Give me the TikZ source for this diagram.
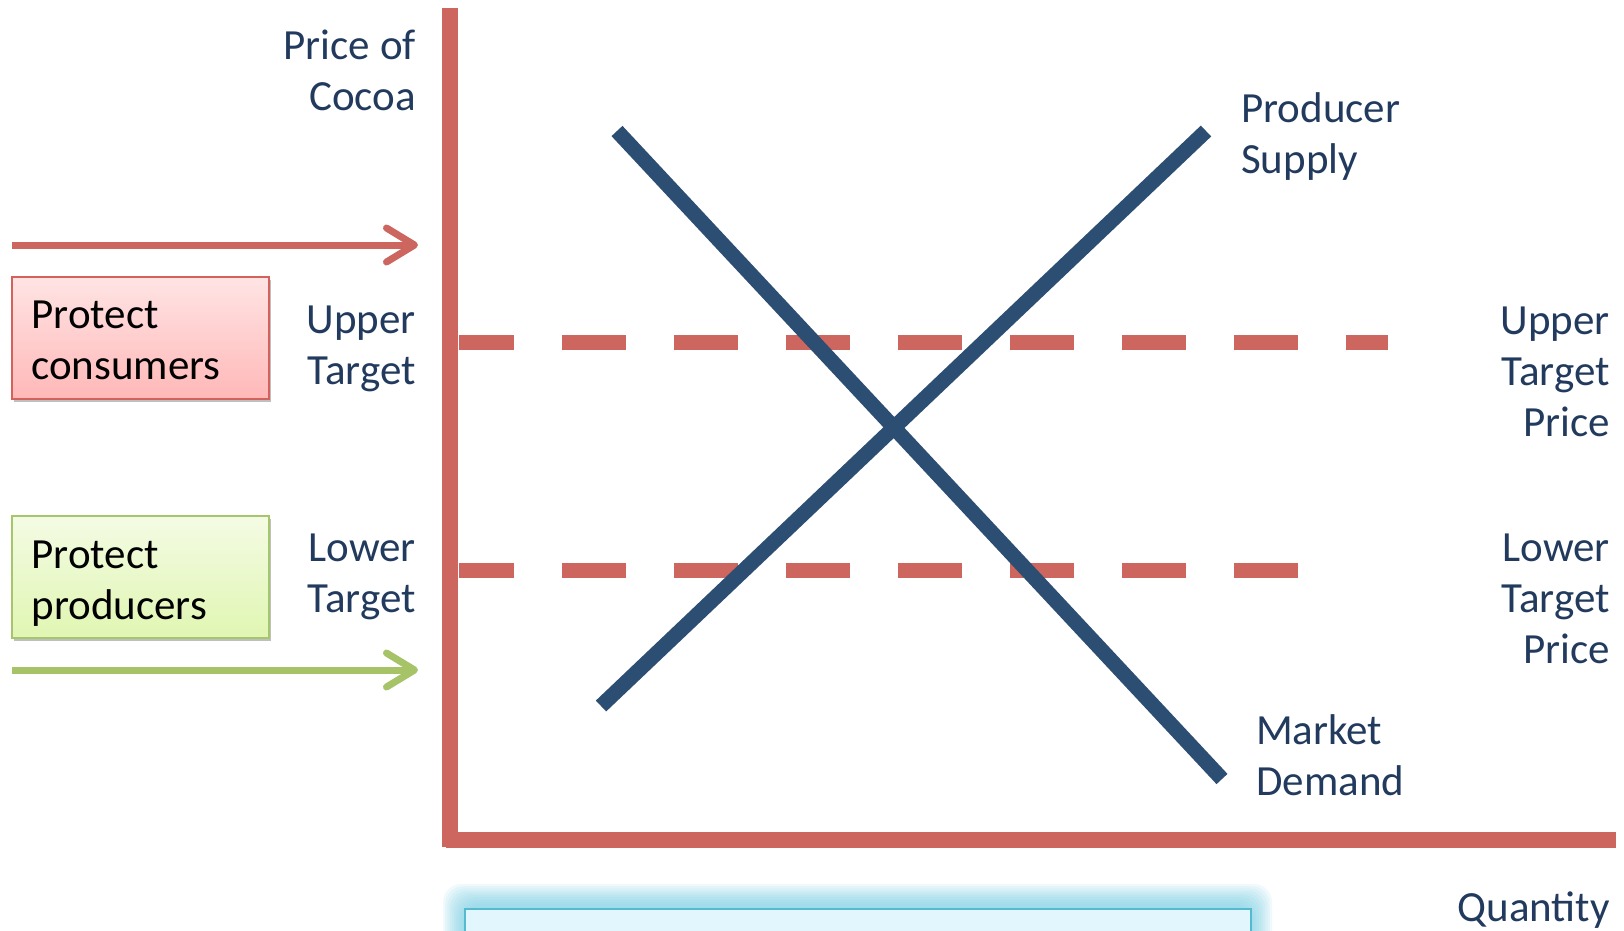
\documentclass[tikz,border=0pt]{standalone}
\usepackage{fontspec}
\setmainfont{Carlito}
\usetikzlibrary{arrows.meta,shadows,calc}
\definecolor{axisred}{RGB}{205,102,95}
\definecolor{curveblue}{RGB}{45,78,115}
\definecolor{labelblue}{RGB}{33,58,93}
\definecolor{arrowgreen}{RGB}{166,195,104}
\definecolor{pinktop}{RGB}{255,228,228}
\definecolor{pinkbot}{RGB}{255,184,184}
\definecolor{pinkedge}{RGB}{212,98,92}
\definecolor{greentop}{RGB}{244,251,228}
\definecolor{greenbot}{RGB}{224,246,178}
\definecolor{greenedge}{RGB}{165,198,108}
\definecolor{glowcyan}{RGB}{112,202,224}
\definecolor{cyanfill}{RGB}{226,246,253}
\definecolor{cyanedge}{RGB}{85,185,210}
\begin{document}
\begin{tikzpicture}[x=1pt,y=-1pt,
  lbl/.style={font=\fontsize{43}{51}\selectfont, text=labelblue, inner sep=0pt},
  lblR/.style={lbl, align=right, anchor=north east},
  lblL/.style={lbl, align=left, anchor=north west},
  boxtxt/.style={font=\fontsize{43}{51}\selectfont, text=black, inner sep=0pt, align=left, anchor=north west},
  axisline/.style={draw=axisred, line width=16pt},
  targetline/.style={draw=axisred, line width=15pt, dash pattern=on 64pt off 48pt, dash phase=9pt},
  curveline/.style={draw=curveblue, line width=15pt},
  protbox/.style={rectangle, minimum width=257pt, minimum height=122pt, line width=1.5pt,
    drop shadow={shadow xshift=2pt, shadow yshift=-3pt, opacity=0.25, fill=black}},
  consbox/.style={protbox, draw=pinkedge, top color=pinktop, bottom color=pinkbot},
  prodbox/.style={protbox, draw=greenedge, top color=greentop, bottom color=greenbot},
  redarrow/.style={draw=axisred, line width=7pt, -{Straight Barb[length=28pt,width=34pt,round]}},
  greenarrow/.style={draw=arrowgreen, line width=7pt, -{Straight Barb[length=28pt,width=34pt,round]}},
]
\useasboundingbox (0,0) rectangle (1624,930);

% bottom cyan box with glow
\foreach \i in {0,...,9}{
  \fill[glowcyan, opacity=0.1, rounded corners=18pt] ({443+2.2*\i},{884+2.2*\i}) rectangle ({1272-2.2*\i},980);
}
\draw[fill=cyanfill, draw=cyanedge, line width=2pt] (465,909) rectangle (1251,980);

% target price lines
\coordinate (up0) at (459,342);
\coordinate (up1) at (1388,342);
\coordinate (lo0) at (459,570);
\coordinate (lo1) at (1300,570);
\draw[targetline] (up0) -- (up1);
\draw[targetline] (lo0) -- (lo1);

% axes
\coordinate (ytop) at (450,8);
\coordinate (ybot) at (450,847);
\coordinate (xorig) at (446,840);
\coordinate (xend) at (1616,840);
\draw[axisline] (ytop) -- (ybot);
\draw[axisline] (xorig) -- (xend);

% demand and supply
\coordinate (d0) at (617,131);
\coordinate (d1) at (1222,779);
\coordinate (s0) at (601,706);
\coordinate (s1) at (1206,131);
\draw[curveline] (d0) -- (d1);
\draw[curveline] (s0) -- (s1);

% arrows
\coordinate (ra0) at (12,245);
\coordinate (ra1) at (418,245);
\coordinate (ga0) at (12,670);
\coordinate (ga1) at (418,670);
\draw[redarrow] (ra0) -- (ra1);
\draw[greenarrow] (ga0) -- (ga1);

% boxes
\node[consbox] (cons) at (140.5,338) {};
\node[boxtxt] (constxt) at ($(cons.north west)+(20,24)$) {Protect\\consumers};
\node[prodbox] (prod) at (140.5,577) {};
\node[boxtxt] (prodtxt) at ($(prod.north west)+(20,25)$) {Protect\\producers};

% labels
\node[lblR] (price) at (416,30) {Price of\\Cocoa};
\node[lblR] (uppL) at (416,306) {Upper\\Target};
\node[lblR] (lowL) at (416,534) {Lower\\Target};
\node[lblL] (supply) at (1241,92) {Producer\\Supply};
\node[lblL] (demand) at (1256,714) {Market\\Demand};
\node[lblR] (uppR) at (1610,307) {Upper\\Target\\Price};
\node[lblR] (lowR) at (1610,534) {Lower\\Target\\Price};
\node[lblR] (qty) at (1610,892) {Quantity};
\end{tikzpicture}
\end{document}
